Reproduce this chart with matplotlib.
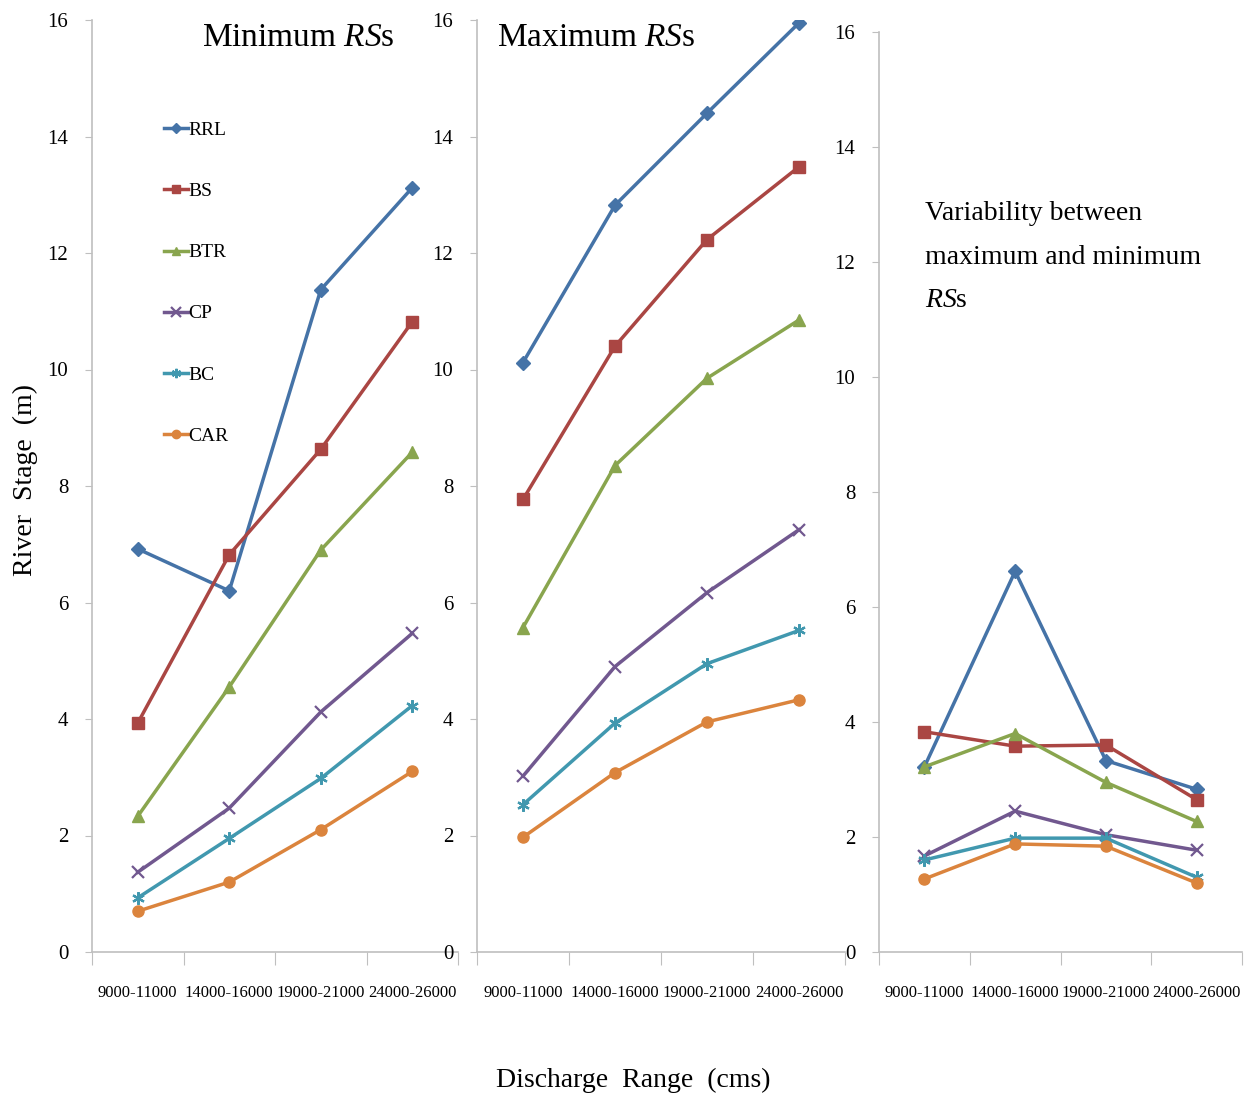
import matplotlib
matplotlib.use('Agg')
import matplotlib.pyplot as plt

plt.rcParams['font.family'] = ['Liberation Serif', 'DejaVu Serif']
plt.rcParams['mathtext.fontset'] = 'custom'
plt.rcParams['mathtext.it'] = 'Liberation Serif:italic'
plt.rcParams['mathtext.rm'] = 'Liberation Serif'

categories = ['9000-11000', '14000-16000', '19000-21000', '24000-26000']
series = ['RRL', 'BS', 'BTR', 'CP', 'BC', 'CAR']

min_rs = {
    'RRL': [6.92, 6.20, 11.37, 13.12],
    'BS': [3.93, 6.82, 8.63, 10.82],
    'BTR': [2.33, 4.55, 6.90, 8.58],
    'CP': [1.37, 2.47, 4.12, 5.47],
    'BC': [0.93, 1.95, 2.98, 4.23],
    'CAR': [0.70, 1.20, 2.10, 3.10],
}
max_rs = {
    'RRL': [10.12, 12.82, 14.40, 15.95],
    'BS': [7.77, 10.40, 12.23, 13.48],
    'BTR': [5.57, 8.35, 9.85, 10.85],
    'CP': [3.02, 4.90, 6.17, 7.25],
    'BC': [2.53, 3.93, 4.95, 5.52],
    'CAR': [1.97, 3.08, 3.95, 4.33],
}
variability = {
    'RRL': [3.22, 6.62, 3.33, 2.83],
    'BS': [3.83, 3.58, 3.60, 2.65],
    'BTR': [3.22, 3.80, 2.95, 2.27],
    'CP': [1.67, 2.45, 2.04, 1.77],
    'BC': [1.60, 1.98, 1.98, 1.30],
    'CAR': [1.27, 1.88, 1.84, 1.20],
}

colors = {'RRL': '#4573A7', 'BS': '#AA4643', 'BTR': '#89A54E',
          'CP': '#71588F', 'BC': '#4198AF', 'CAR': '#DB843D'}
markers = {'RRL': 'D', 'BS': 's', 'BTR': '^', 'CP': 'x',
           'BC': (6, 2, 0), 'CAR': 'o'}
msizes = {'RRL': 7, 'BS': 8, 'BTR': 8, 'CP': 9, 'BC': 9, 'CAR': 8}

fig = plt.figure(figsize=(12.45, 10.99), dpi=100)
W, H = 1245.0, 1099.0

# pixel boxes: left, top, right, bottom
boxes = [(92, 20, 458, 952), (477, 20, 845, 952), (879, 32, 1242, 952)]
datasets = [min_rs, max_rs, variability]
axes = []
for (l, t, r, b), data in zip(boxes, datasets):
    ax = fig.add_axes([l / W, 1 - b / H, (r - l) / W, (b - t) / H])
    x = list(range(1, len(categories) + 1))
    for s in series:
        ax.plot(x, data[s], color=colors[s], marker=markers[s],
                markersize=msizes[s], linewidth=2.5, label=s,
                markeredgewidth=1.6 if s in ('CP', 'BC') else 1)
    ax.set_xlim(0.5, 4.5)
    ax.set_ylim(0, 16)
    ax.set_yticks(range(0, 17, 2))
    ax.set_xticks([0.5, 1.5, 2.5, 3.5, 4.5])
    ax.set_xticklabels([])
    ax.set_xticks(x, minor=True)
    ax.set_xticklabels(categories, minor=True, fontsize=12)
    ax.tick_params(axis='x', which='major', length=9, color='#BFBFBF',
                   direction='out')
    ax.tick_params(axis='x', which='minor', length=0, pad=24)
    ax.tick_params(axis='y', length=5, color='#BFBFBF', labelsize=15, pad=12)
    for sp in ('top', 'right'):
        ax.spines[sp].set_visible(False)
    for sp in ('left', 'bottom'):
        ax.spines[sp].set_color('#BFBFBF')
        ax.spines[sp].set_linewidth(1.2)
    axes.append(ax)

axes[0].legend(loc='upper left', bbox_to_anchor=(0.15, 0.91), frameon=False,
               fontsize=14, handlelength=1.2, handletextpad=0.05,
               labelspacing=2.24, markerscale=0.75)

fig.text(298 / W, 1 - 38 / H, r'Minimum $\mathit{RS}$s', ha='center',
         va='center', fontsize=24)
fig.text(596 / W, 1 - 38 / H, r'Maximum $\mathit{RS}$s', ha='center',
         va='center', fontsize=24)
fig.text(925 / W, 1 - 213 / H, 'Variability between', ha='left',
         va='center', fontsize=20)
fig.text(925 / W, 1 - 258 / H, 'maximum and minimum', ha='left',
         va='center', fontsize=20)
fig.text(925 / W, 1 - 301 / H, r'$\mathit{RS}$s', ha='left',
         va='center', fontsize=20)

fig.text(25 / W, 1 - 480 / H, 'River  Stage  (m)', rotation=90,
         ha='center', va='center', fontsize=20)
fig.text(633 / W, 1 - 1080 / H, 'Discharge  Range  (cms)', ha='center',
         va='center', fontsize=20)

fig.savefig('out.png', dpi=100, facecolor='white')
